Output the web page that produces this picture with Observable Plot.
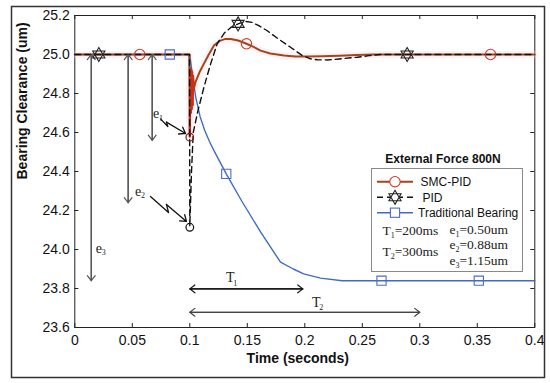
<!DOCTYPE html>
<html><head><meta charset="utf-8">
<script src="https://cdn.jsdelivr.net/npm/d3@7"></script>
<script src="https://cdn.jsdelivr.net/npm/@observablehq/plot@0.6"></script>
<style>body{margin:0;background:#fff} svg{display:block}</style>
</head><body><div id="chart"></div>
<script>
// ---- data ----
const xTicks = [0, 0.05, 0.1, 0.15, 0.2, 0.25, 0.3, 0.35, 0.4];
const xTickLabels = ["0", "0.05", "0.1", "0.15", "0.2", "0.25", "0.3", "0.35", "0.4"];
const yTicks = [23.6, 23.8, 24.0, 24.2, 24.4, 24.6, 24.8, 25.0, 25.2];
const yTickLabels = ["23.6", "23.8", "24.0", "24.2", "24.4", "24.6", "24.8", "25.0", "25.2"];

const smcT = [0, 0.0995, 0.1, 0.1004, 0.1008, 0.1012, 0.1016, 0.102, 0.1024, 0.1028, 0.1034, 0.105, 0.1085, 0.1122, 0.1165, 0.121, 0.126, 0.131, 0.1356, 0.142, 0.1493, 0.155, 0.1615, 0.17, 0.182, 0.192, 0.202, 0.215, 0.23, 0.245, 0.26, 0.3, 0.4];
const smcV = [25, 25, 24.58, 24.93, 24.70, 24.92, 24.72, 24.91, 24.74, 24.89, 24.82, 24.86, 24.91, 24.952, 25.0, 25.046, 25.07, 25.08, 25.08, 25.072, 25.055, 25.04, 25.02, 25.005, 24.995, 24.99, 24.99, 24.991, 24.994, 24.997, 25.0, 25.0, 25.0];

const pidT = [0, 0.0998, 0.1, 0.1015, 0.103, 0.107, 0.1122, 0.118, 0.1238, 0.13, 0.136, 0.142, 0.148, 0.154, 0.16, 0.167, 0.177, 0.1876, 0.1977, 0.205, 0.2108, 0.22, 0.23, 0.2397, 0.2456, 0.2558, 0.2658, 0.4];
const pidV = [25, 25, 24.12, 24.4, 24.6, 24.71, 24.83, 24.95, 25.055, 25.11, 25.14, 25.157, 25.17, 25.165, 25.148, 25.123, 25.08, 25.037, 24.995, 24.978, 24.973, 24.972, 24.977, 24.983, 24.986, 24.994, 25.0, 25.0];

const tradT = [0, 0.1, 0.1025, 0.1052, 0.109, 0.113, 0.117, 0.121, 0.1317, 0.145, 0.1615, 0.1789, 0.19, 0.199, 0.2137, 0.2325, 0.4];
const tradV = [25, 25, 24.88, 24.78, 24.68, 24.61, 24.555, 24.507, 24.388, 24.25, 24.09, 23.935, 23.9, 23.875, 23.853, 23.84, 23.84];

const smcMarkT = [0.0565, 0.1493, 0.3615];
const smcMarkV = [25.0, 25.055, 25.0];
const pidMarkT = [0.0209, 0.142, 0.289];
const pidMarkV = [25.0, 25.157, 25.0];
const tradMarkT = [0.0826, 0.1317, 0.2667, 0.3513];
const tradMarkV = [25.0, 24.388, 23.84, 23.84];

// error annotations (e3, e2, e1)
const errArrowT = [0.0143, 0.0464, 0.0673];
const errArrowTop = [25.0, 25.0, 25.0];
const errArrowBottom = [23.84, 24.24, 24.56];
const errLabelSub = ["3", "2", "1"];
const errLabelT = [0.0209, 0.055, 0.0706];
const errLabelV = [24.004, 24.297, 24.695];
// zigzag pointer arrows (e1, e2): points A, B, C, D
const zigE1T = [0.0745, 0.0809, 0.0797, 0.0963];
const zigE1V = [24.670, 24.631, 24.653, 24.595];
const zigE2T = [0.0658, 0.0815, 0.0797, 0.0971];
const zigE2V = [24.272, 24.190, 24.231, 24.144];
const peakCircleT = [0.1, 0.1];
const peakCircleV = [24.576, 24.114];
const peakCircleColor = ["#7a1c1c", "#111"];

// time span annotations
const spanStart = [0.1, 0.1];
const spanEnd = [0.1983, 0.3];
const spanV = [23.798, 23.678];
const spanSub = ["1", "2"];
const spanLabelT = [0.1351, 0.21];
const spanLabelV = [23.854, 23.726];
const spanColor = ["#111", "#444"];

const legendNames = ["SMC-PID", "PID", "Traditional Bearing"];
const legendTitle = "External Force 800N";
const legendParams = [["T", "1", "=200ms"], ["T", "2", "=300ms"]];
const legendErrors = [["e", "1", "=0.50um"], ["e", "2", "=0.88um"], ["e", "3", "=1.15um"]];

// ---- helpers ----
const zip = (a, b) => a.map((t, i) => ({t, v: b[i]}));
const smc = zip(smcT, smcV), pid = zip(pidT, pidV), trad = zip(tradT, tradV);
const smcChatter = smc.filter(d => d.t >= 0.1 && d.t <= 0.1034);
const errArrows = errArrowT.map((t, i) => ({t, top: errArrowTop[i], bot: errArrowBottom[i]}));
const errLabels = errLabelT.map((t, i) => ({t, v: errLabelV[i], sub: errLabelSub[i]}));
const zig1 = zip(zigE1T, zigE1V), zig2 = zip(zigE2T, zigE2V);
const zigs = [zig1, zig2];
const peakCircles = peakCircleT.map((t, i) => ({t, v: peakCircleV[i], c: peakCircleColor[i]}));
const spans = spanStart.map((s, i) => ({s, e: spanEnd[i], v: spanV[i], c: spanColor[i]}));
const spanLabels = spanLabelT.map((t, i) => ({t, v: spanLabelV[i], sub: spanSub[i]}));

const hexagram = {
  draw(ctx, size) {
    const r = Math.sqrt(size / Math.PI) * 1.35;
    for (const off of [-Math.PI / 2, Math.PI / 2]) {
      for (let i = 0; i < 3; i++) {
        const a = off + i * 2 * Math.PI / 3;
        const x = r * Math.cos(a), y = r * Math.sin(a);
        if (i === 0) ctx.moveTo(x, y); else ctx.lineTo(x, y);
      }
      ctx.closePath();
    }
  }
};

const W = 550, H = 383, mL = 74.3, mR = 15.7, mT = 15, mB = 56;
const innerW = W - mL - mR, innerH = H - mT - mB;
const SERIF = "Liberation Serif, Times New Roman, serif";
const SMC_COLOR = "#a2461a", SMC_MARK = "#cf3b28", PID_COLOR = "#111", TRAD_COLOR = "#3f6cc2", TRAD_MARK = "#4a6cc8";

const chart = Plot.plot({
  width: W, height: H,
  marginLeft: mL, marginRight: mR, marginTop: mT, marginBottom: mB,
  style: {fontFamily: "Liberation Sans, Arial, sans-serif", fontSize: "14px", color: "#111", background: "#fff"},
  x: {domain: [0, 0.4]},
  y: {domain: [23.6, 25.2]},
  marks: [
    Plot.frame({stroke: "#222", strokeWidth: 1}),
    Plot.ruleX(xTicks, {x: d => d, insetTop: innerH - 4, stroke: "#222"}),
    Plot.ruleX(xTicks, {x: d => d, insetBottom: innerH - 4, stroke: "#222"}),
    Plot.ruleY(yTicks, {y: d => d, insetRight: innerW - 4, stroke: "#222"}),
    Plot.ruleY(yTicks, {y: d => d, insetLeft: innerW - 4, stroke: "#222"}),
    Plot.axisX(xTicks, {tickSize: 0, tickPadding: 8, tickFormat: d => xTickLabels[xTicks.indexOf(d)], label: null, fontSize: 14}),
    Plot.axisY(yTicks, {tickSize: 0, tickPadding: 5, tickFormat: d => yTickLabels[yTicks.indexOf(d)], label: null, fontSize: 14}),
    Plot.text(["Time (seconds)"], {frameAnchor: "bottom", dx: -7, dy: 35, fontWeight: "bold", fontSize: 14, fill: "#111"}),
    Plot.text(["Bearing Clearance (um)"], {frameAnchor: "left", rotate: -90, dx: -52, dy: 8, fontWeight: "bold", fontSize: 14, fill: "#111"}),

    // series
    Plot.line(smc, {x: "t", y: "v", stroke: "#fbd3e4", strokeWidth: 7, strokeOpacity: 0.3}),
    Plot.line(trad, {x: "t", y: "v", stroke: TRAD_COLOR, strokeWidth: 1.4}),
    Plot.line(smc, {x: "t", y: "v", stroke: SMC_COLOR, strokeWidth: 2}),
    Plot.line(smcChatter, {x: "t", y: "v", stroke: "#c8301a", strokeWidth: 2.2}),
    Plot.line(pid, {x: "t", y: "v", stroke: PID_COLOR, strokeWidth: 1.4, strokeDasharray: "6,4"}),

    // error annotations
    Plot.arrow(errArrows, {x1: "t", y1: "top", x2: "t", y2: "bot", stroke: "#555", strokeWidth: 1.2, headLength: 8, headAngle: 75}),
    Plot.arrow(errArrows, {x1: "t", y1: "bot", x2: "t", y2: "top", stroke: "#555", strokeWidth: 1.2, headLength: 8, headAngle: 75}),
    Plot.text(errLabels, {x: "t", y: "v", text: () => "e", fontFamily: SERIF, fontSize: 14, fill: "#222"}),
    Plot.text(errLabels, {x: "t", y: "v", text: "sub", dx: 5, dy: 4, fontFamily: SERIF, fontSize: 8, fill: "#222"}),
    ...zigs.map(z => Plot.line(z.slice(0, 3), {x: "t", y: "v", stroke: "#111", strokeWidth: 1.3})),
    ...zigs.map(z => Plot.arrow([z], {x1: d => d[2].t, y1: d => d[2].v, x2: d => d[3].t, y2: d => d[3].v, stroke: "#111", strokeWidth: 1.3, headLength: 8, headAngle: 70})),
    Plot.dot(peakCircles, {x: "t", y: "v", r: 3.8, stroke: "c", strokeWidth: 1.2, fill: "none"}),

    // time spans
    Plot.arrow(spans, {x1: "s", x2: "e", y1: "v", y2: "v", stroke: "c", strokeWidth: 1.2, headLength: 8, headAngle: 75}),
    Plot.arrow(spans, {x1: "e", x2: "s", y1: "v", y2: "v", stroke: "c", strokeWidth: 1.2, headLength: 8, headAngle: 75}),
    Plot.text(spanLabels, {x: "t", y: "v", text: () => "T", fontFamily: SERIF, fontSize: 14, fill: "#222"}),
    Plot.text(spanLabels, {x: "t", y: "v", text: "sub", dx: 5, dy: 5, fontFamily: SERIF, fontSize: 8, fill: "#222"}),

    // markers
    Plot.dot(zip(tradMarkT, tradMarkV), {x: "t", y: "v", symbol: "square", r: 5.2, stroke: TRAD_MARK, strokeWidth: 1.1, fill: "none"}),
    Plot.dot(zip(smcMarkT, smcMarkV), {x: "t", y: "v", symbol: "circle", r: 5.2, stroke: SMC_MARK, strokeWidth: 1.1, fill: "none"}),
    Plot.dot(zip(pidMarkT, pidMarkV), {x: "t", y: "v", symbol: hexagram, r: 5.2, stroke: "#222", strokeWidth: 1.1, fill: "none"})
  ]
});

// ---- outer figure frame and legend ----
const svg = d3.select(chart);
svg.insert("rect", ":first-child").attr("x", 11.5).attr("y", 6.5).attr("width", 533).attr("height", 371)
  .attr("fill", "#fff").attr("stroke", "#333").attr("stroke-width", 1.5);

const lg = svg.append("g").attr("font-family", "Liberation Sans, Arial, sans-serif").attr("text-anchor", "start");
lg.append("text").attr("x", 443).attr("y", 162.5).attr("text-anchor", "middle")
  .attr("font-size", 12).attr("font-weight", "bold").attr("fill", "#111").text(legendTitle);
lg.append("rect").attr("x", 371.5).attr("y", 168.5).attr("width", 151).attr("height", 103)
  .attr("fill", "#fff").attr("stroke", "#888").attr("stroke-width", 1);

const rowY = [181.7, 197.3, 212.7];
const textX = [420.5, 422.5, 418];
const lineStyles = [
  {stroke: SMC_COLOR, dash: null, w: 2},
  {stroke: PID_COLOR, dash: "6,4", w: 1.4},
  {stroke: TRAD_COLOR, dash: null, w: 1.4}
];
legendNames.forEach((name, i) => {
  const y = rowY[i], s = lineStyles[i];
  const l = lg.append("line").attr("x1", 377).attr("x2", 413).attr("y1", y).attr("y2", y)
    .attr("stroke", s.stroke).attr("stroke-width", s.w);
  if (s.dash) l.attr("stroke-dasharray", s.dash);
  lg.append("text").attr("x", textX[i]).attr("y", y + 4.5).attr("text-anchor", "start")
    .attr("font-size", 12).attr("fill", "#111").text(name);
});
// legend markers
lg.append("circle").attr("cx", 395).attr("cy", rowY[0]).attr("r", 5.2).attr("fill", "#fff").attr("stroke", SMC_MARK).attr("stroke-width", 1.1);
lg.append("path").attr("transform", `translate(395,${rowY[1]})`)
  .attr("d", (() => { const p = d3.path(); hexagram.draw(p, Math.PI * 5.2 * 5.2); return p.toString(); })())
  .attr("fill", "#fff").attr("stroke", "#222").attr("stroke-width", 1.1);
lg.append("rect").attr("x", 395 - 4.6).attr("y", rowY[2] - 4.6).attr("width", 9.2).attr("height", 9.2)
  .attr("fill", "#fff").attr("stroke", TRAD_MARK).attr("stroke-width", 1.1);

function subText(g, x, y, parts) {
  const t = g.append("text").attr("x", x).attr("y", y).attr("text-anchor", "start")
    .attr("font-family", SERIF).attr("font-size", 13.5).attr("fill", "#222");
  t.append("tspan").text(parts[0]);
  t.append("tspan").attr("font-size", 8).attr("dy", 3).text(parts[1]);
  t.append("tspan").attr("dy", -3).text(parts[2]);
}
const paramY = [235, 255.5];
legendParams.forEach((p, i) => subText(lg, 382.5, paramY[i], p));
const errY = [233.5, 249, 265];
legendErrors.forEach((p, i) => subText(lg, 449.5, errY[i], p));

document.getElementById("chart").appendChild(chart);
</script>
</body></html>
